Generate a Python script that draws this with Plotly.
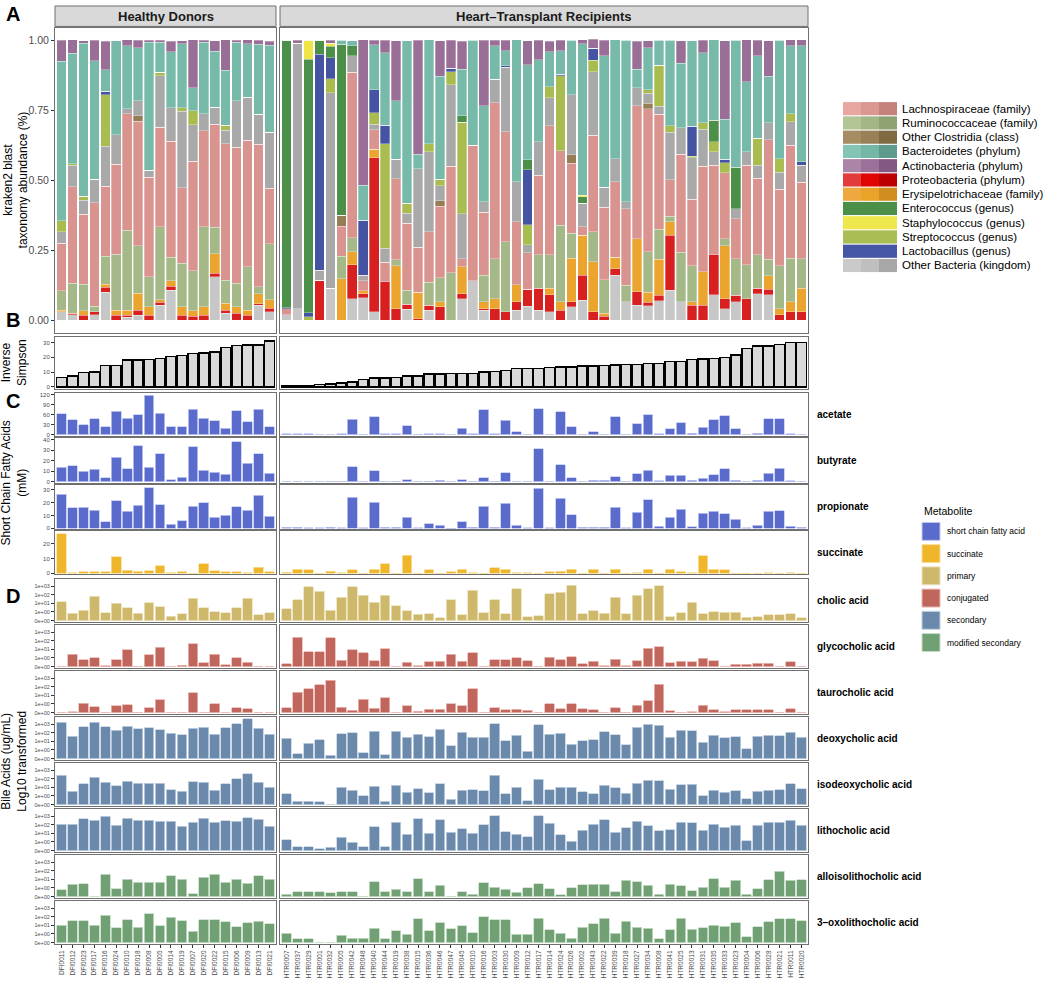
import math
import plotly.graph_objects as go

W, H = 1053, 982
FONT = "Liberation Sans, Arial, Helvetica, sans-serif"
LINE = "#707070"
TICKC = "#4D4D4D"

# ---------------- samples ----------------
hd_samples = ["DFI0011", "DFI0012", "DFI0023", "DFI0017", "DFI0016", "DFI0024", "DFI0010",
              "DFI0018", "DFI0008", "DFI0005", "DFI0014", "DFI0019", "DFI0007", "DFI0020",
              "DFI0022", "DFI0015", "DFI0006", "DFI0009", "DFI0013", "DFI0021"]
htr_samples = ["HTR0007", "HTR0037", "HTR0029", "HTR0001", "HTR0032", "HTR0005", "HTR0042",
               "HTR0048", "HTR0040", "HTR0044", "HTR0019", "HTR0038", "HTR0015", "HTR0036",
               "HTR0046", "HTR0047", "HTR0045", "HTR0010", "HTR0016", "HTR0003", "HTR0030",
               "HTR0009", "HTR0012", "HTR0017", "HTR0014", "HTR0024", "HTR0026", "HTR0002",
               "HTR0043", "HTR0022", "HTR0039", "HTR0018", "HTR0027", "HTR0034", "HTR0008",
               "HTR0041", "HTR0025", "HTR0013", "HTR0031", "HTR0035", "HTR0033", "HTR0023",
               "HTR0004", "HTR0006", "HTR0028", "HTR0021", "HTR0011", "HTR0020"]
group_labels = ["Healthy Donors", "Heart\u2013Transplant Recipients"]

# ---------------- taxonomy relative abundance (20 HD then 48 HTR) ----------------
tax_other_low = [.03, .02, 0, .02, .10, 0, .01, .018, 0, .053, .107, 0, 0, 0, .155, .024, 0, 0, .053, .03,
                 .02, .04, 0, 0, .113, 0, .077, .08, .03, 0, 0, .038, 0, .035, 0, 0, .077, .14, .036, 0,
                 0, .036, .05, .036, .03, 0, .048, .071, 0, 0, .16, .065, .053, .051, .07, .107, .065, 0,
                 0, .09, .04, .065, 0, .095, .09, 0, 0, 0]
tax_proteo = [0, .005, .018, .01, .018, .018, .008, .018, .018, .01, .014, .018, .014, .018, .012, .012, .024, .018, .006, .012,
              0, 0, 0, .142, 0, 0, .12, .015, .55, .137, .04, .018, .005, .018, .047, 0, .018, 0, .005, .04,
              .03, .03, .06, .077, .06, .036, .018, .09, .03, .014, .024, 0, .048, .012, .018, .196, 0, .053,
              .053, .143, .036, .024, .077, .018, .02, .02, .03, .03]
tax_erysipelo = [.005, 0, .015, 0, .01, .018, .018, .06, .03, .01, .02, .03, .02, .03, .07, .024, .024, .018, .036, .03,
                 0, 0, 0, 0, 0, .148, .048, .01, .03, 0, .155, 0, .095, 0, .018, 0, .095, 0, .024, .036,
                 0, .06, 0, 0, .024, .03, .155, .143, .178, .01, .04, 0, .19, .036, .13, .048, 0, .012,
                 .12, 0, .19, 0, 0, 0, .048, .02, .036, .083]
tax_rumino = [.07, .107, .095, .02, .10, .20, .285, .17, .107, .26, .083, .155, .143, .285, .095, .083, .083, .155, .024, .20,
              0, 0, 0, 0, 0, .08, .05, 0, 0, 0, .02, .05, 0, .083, .087, .17, 0, 0, .095, .143,
              .25, 0, 0, .12, .12, .273, .09, 0, .107, .12, 0, .06, 0, .146, .107, .02, .178, .13,
              0, 0, .024, .13, .12, .12, .06, .155, .155, .107]
tax_lachno = [.17, .345, .25, .37, .25, .32, .416, .445, .356, .356, .415, .27, .39, .344, .368, .487, .487, .451, .51, .20,
              .02, 0, 0, 0, 0, .107, .59, .036, .07, .07, .29, .24, .16, .18, .255, .38, .03, .484, .226, .558,
              .393, .226, .13, .285, .46, .267, .25, .03, .345, .26, .27, .273, .475, .51, .41, .13, .35, .237,
              .376, .32, .237, .143, .356, .273, .427, .273, .404, .273]
tax_clostridia = [0, 0, 0, 0, 0, 0, 0, .02, 0, 0, 0, 0, 0, 0, 0, 0, 0, 0, 0, 0,
                  0, 0, 0, 0, 0, .04, 0, 0, 0, 0, 0, 0, 0, 0, .02, 0, 0, 0, 0, 0,
                  0, 0, 0, 0, 0, 0, .03, 0, 0, 0, 0, 0, 0, .02, 0, 0, 0, 0,
                  0, 0, 0, 0, 0, 0, 0, 0, 0, 0]
tax_other_mid = [.04, .077, .05, .083, .143, .107, .018, .053, .024, .184, .12, .273, .131, .06, .06, .048, .166, .155, .107, .20,
                 0, .95, 0, .036, .70, 0, .06, .02, .02, .05, .07, .036, .28, .285, .053, .291, .16, 0, .036, .083,
                 .23, .143, .03, .12, .10, 0, .214, .083, .227, .07, .083, .024, .065, .036, .03, .17, .095, .148,
                 .133, .048, 0, .036, .048, .048, .06, .06, .083, .06]
tax_strepto = [.04, .005, .015, 0, .184, 0, 0, 0, 0, .012, 0, .012, .05, 0, 0, .018, 0, 0, 0, 0,
               0, 0, .012, 0, .05, 0, 0, 0, .04, .374, 0, .036, 0, .03, .024, .047, .327, 0, 0, 0,
               0, 0, .071, 0, .04, .267, 0, 0, .042, 0, 0, 0, 0, .012, .145, .024, 0, .006,
               .024, .036, .036, 0, 0, .095, 0, .048, .03, 0]
tax_lacto = [0, 0, 0, 0, .012, 0, 0, 0, 0, 0, 0, 0, 0, 0, 0, 0, 0, 0, 0, 0,
             .005, 0, .015, .772, .075, 0, 0, .196, .083, .065, 0, 0, 0, 0, 0, .012, 0, 0, 0, 0,
             .006, 0, .196, 0, 0, .006, 0, 0, .042, 0, 0, 0, 0, 0, 0, 0, 0, .107,
             0, 0, .012, 0, 0, 0, 0, 0, 0, .012]
tax_entero = [0, 0, 0, 0, 0, 0, 0, 0, 0, 0, 0, 0, 0, 0, 0, 0, 0, 0, 0, 0,
              .955, 0, .905, .05, .04, .61, .035, 0, 0, 0, 0, 0, 0, 0, 0, 0, .024, 0, 0, 0,
              0, 0, .036, 0, 0, 0, 0, .024, 0, 0, 0, 0, 0, 0, 0, 0, 0, 0,
              0, .077, 0, .148, 0, 0, 0, 0, 0, 0]
tax_staph = [0, 0, 0, 0, 0, 0, 0, 0, 0, 0, 0, 0, 0, 0, 0, 0, 0, 0, 0, 0,
             0, 0, .068, 0, .012, 0, 0, 0, 0, 0, 0, 0, 0, 0, 0, 0, 0, 0, 0, 0,
             0, 0, 0, 0, 0, 0, 0, .006, 0, 0, 0, 0, 0, 0, 0, 0, 0, 0,
             0, 0, 0, 0, 0, 0, 0, 0, 0, 0]
tax_bactero = [.57, .395, .546, .423, .077, .335, .226, .19, .457, .107, .20, .23, .083, .255, .20, .196, .208, .19, .25, .31,
               0, 0, 0, 0, 0, .015, .018, .125, .16, .26, .208, .58, .053, .37, .368, 0, .166, .376, .344, .12,
               .053, .507, .34, .292, .125, .083, .195, .54, 0, .47, .424, .578, .065, .15, .09, .305, .23, .305,
               .25, .287, .143, .454, .25, .295, .166, .424, .243, .416]
tax_actino = [.075, .048, .01, .074, .103, 0, .02, .026, .008, .008, .038, .01, .17, .008, .038, .11, .008, .014, .014, .014,
              0, .01, 0, 0, .01, 0, 0, .52, .017, .044, .216, 0, .407, 0, .127, .10, .10, 0, .234, .02,
              .038, 0, .086, .07, .038, .038, 0, .014, .032, .056, 0, 0, .10, .026, 0, 0, .08, 0,
              .044, 0, .28, 0, .15, .056, .127, 0, .02, .02]

# stacking order bottom -> top, with bar colour
tax_layers = [
    (tax_other_low, "#C7C7C7"),
    (tax_proteo, "#D92020"),
    (tax_erysipelo, "#EBA42E"),
    (tax_rumino, "#A4B987"),
    (tax_lachno, "#DA948F"),
    (tax_clostridia, "#957D55"),
    (tax_other_mid, "#A9A9A9"),
    (tax_strepto, "#A8BC4F"),
    (tax_lacto, "#4454A3"),
    (tax_entero, "#4B8F48"),
    (tax_staph, "#EEE647"),
    (tax_bactero, "#77BAA9"),
    (tax_actino, "#9A6F97"),
]

tax_legend_labels = ["Lachnospiraceae (family)", "Ruminococcaceae (family)", "Other Clostridia (class)",
                     "Bacteroidetes (phylum)", "Actinobacteria (phylum)", "Proteobacteria (phylum)",
                     "Erysipelotrichaceae (family)", "Enterococcus (genus)", "Staphylococcus (genus)",
                     "Streptococcus (genus)", "Lactobacillus (genus)", "Other Bacteria (kingdom)"]
tax_legend_colors = [["#E8A6A1", "#DB9691", "#C6817C"], ["#B2C596", "#A3B786", "#8EA273"],
                     ["#A58C62", "#988058", "#7F6A42"], ["#84C4B4", "#75B7A6", "#5F9B8C"],
                     ["#AA85A7", "#9B719A", "#835983"], ["#E23B3B", "#E00505", "#BC0000"],
                     ["#EDA83F", "#EBA228", "#D08D20"], ["#4B8F49"] * 3, ["#EFE84C"] * 3,
                     ["#A9BD53"] * 3, ["#4556A5"] * 3, ["#CACACA", "#BFBFBF", "#A8A8A8"]]

# ---------------- inverse simpson ----------------
invsimp_hd = [6.5, 7.4, 9.9, 10.0, 14.6, 14.6, 18.2, 18.2, 18.7, 19.1, 20.7, 21.1, 22.7, 22.9, 23.6,
              26.5, 28.1, 28.3, 28.5, 31.2]
invsimp_htr = [0.7, 0.7, 0.9, 1.6, 1.8, 2.5, 3.4, 5.0, 5.9, 6.0, 6.3, 7.4, 7.4, 8.6, 8.6, 9.0, 9.2, 9.2,
               10.1, 10.4, 11.0, 12.6, 12.6, 12.6, 13.1, 13.5, 13.5, 14.2, 14.2, 14.6, 14.9, 15.3, 15.3,
               15.8, 16.0, 17.3, 17.3, 18.5, 18.9, 19.4, 19.8, 21.6, 26.1, 27.7, 27.7, 28.8, 30.2, 30.2]

# ---------------- short chain fatty acids (mM) ----------------
acetate_hd = [63, 46, 30, 49, 25, 71, 50, 61, 118, 65, 24, 24, 77, 50, 42, 20, 72, 39, 77, 25]
acetate_htr = [3, 3, 3, 1, 1, 3, 47, 1, 55, 3, 3, 28, 2, 4, 3, 0, 20, 3, 76, 3, 44, 9, 0, 78, 1, 70, 24, 0,
               10, 1, 55, 0, 34, 60, 3, 18, 36, 5, 23, 45, 57, 18, 0, 5, 48, 49, 3, 1]
butyrate_hd = [13.9, 15.1, 10.1, 12, 4.1, 23.3, 12.6, 34, 13.9, 26.5, 2.2, 4.4, 33.4, 11.0, 9.1, 7.3, 37.9,
               17.4, 26.5, 8.2]
butyrate_htr = [0.3, 0, 0, 0, 0.6, 0.6, 14.2, 0.3, 10.7, 0, 0.6, 1.9, 0, 0.6, 1.3, 0, 1.9, 0, 3.8, 0.6,
                8.5, 0, 0, 31.5, 0, 16.1, 3.8, 0, 1.6, 1.3, 5.0, 0, 7.6, 11.0, 0.9, 6.3, 6.3, 1.3, 3.2, 6.9,
                12.3, 1.6, 0, 1.6, 8.2, 12.9, 0.9, 0]
propionate_hd = [26.4, 16.0, 16.5, 14.2, 5.2, 21.4, 13.2, 18.1, 31.5, 18.3, 3.1, 5.9, 17.0, 19.9, 8.8, 10.1,
                 16.8, 14.2, 25.8, 9.3]
propionate_htr = [0.8, 0.8, 0.5, 0.3, 1.0, 0.5, 24.3, 0.5, 20.2, 1.0, 1.0, 8.5, 0.3, 3.6, 2.3, 0, 5.2, 1.0,
                  17.1, 1.0, 19.6, 2.3, 0.3, 31.3, 0.3, 23.3, 10.6, 1.0, 1.0, 1.0, 16.3, 0.3, 12.7, 22.2,
                  1.6, 8.5, 15.0, 1.3, 11.9, 13.2, 11.4, 7.0, 0.3, 2.3, 13.2, 13.7, 1.6, 0.8]
succinate_hd = [26.7, 0.4, 1.1, 0.9, 1.1, 11.0, 2.0, 1.3, 1.6, 4.9, 0.4, 1.1, 0, 6.5, 1.6, 0.9, 0.9, 0.2,
                4.0, 1.1]
succinate_htr = [0.7, 2.7, 2.5, 0, 1.3, 0.2, 2.5, 0, 2.7, 6.5, 0, 12.1, 0, 2.5, 0, 0.9, 2.7, 0.2, 0, 3.8,
                 2.7, 0.2, 0.2, 0, 0.9, 1.3, 2.7, 0, 2.7, 0, 2.7, 0, 0.2, 2.7, 0, 2.7, 1.1, 0.2, 11.7, 2.7,
                 2.2, 0, 0, 0, 0.2, 0, 0.2, 0]

# ---------------- bile acids (ug/mL) ----------------
cholic_hd = [15, 0.86, 1.6, 63, 0.9, 10.5, 3.3, 0.86, 11.5, 4.3, 0.5, 0.78, 37, 3.0, 1.1, 0.9, 3.0, 37, 0.66, 0.9]
cholic_htr = [2.5, 28, 850, 265, 1.5, 48, 850, 91, 14, 83, 5.6, 1.35, 0.74, 0.78, 0.35, 26, 0.7, 350, 0.9, 26,
              0.78, 500, 0.47, 0.58, 130, 186, 1230, 0.78, 1.35, 0.86, 48, 0.78, 83, 500, 1120, 0.43, 0.9,
              14, 0.82, 1.0, 0.97, 0.97, 0.39, 0.47, 0.7, 0.7, 0.78, 0.35]
glyco_hd = [0, 2.75, 0.82, 1.1, 0.12, 0.82, 8.9, 0, 2.5, 18, 0, 0.16, 45, 0.43, 2.75, 0.2, 1.1, 0.5, 0, 0]
glyco_htr = [0.35, 245, 5.6, 5.1, 224, 0.74, 9.6, 4.0, 0.7, 11.5, 0, 0.5, 0.08, 0.55, 0.62, 2.75, 0.62, 4.3,
             0, 0.82, 0.82, 1.1, 0.66, 0, 1.2, 0.78, 1.35, 0.31, 0.62, 0.08, 0.86, 0.12, 0.66, 14, 20, 0.43,
             0.62, 0.55, 0.97, 0.66, 0, 0.27, 0.27, 0.39, 0.39, 0, 0.55, 0]
tauro_hd = [0, 0.08, 1.2, 0.7, 0, 0.78, 0.93, 0, 0.58, 2.9, 0, 0, 20, 0, 1.0, 0, 0.58, 0.43, 0, 0]
tauro_htr = [0.55, 23, 58, 180, 590, 0.62, 0.27, 3.6, 0.5, 5.6, 0, 0.78, 0.16, 0.39, 0.39, 1.1, 0.82, 58, 0,
             0.55, 0.35, 0.39, 0.27, 0, 1.01, 0.43, 1.01, 0.43, 0.35, 0, 0.58, 0, 0.86, 2.5, 186, 0.23, 0,
             0.12, 0.86, 0.35, 0.12, 0.35, 0.31, 0.35, 0.35, 0, 0.43, 0]
deoxy_hd = [1740, 37, 500, 1580, 500, 186, 550, 290, 380, 220, 83, 58, 316, 457, 63, 380, 1120, 4000, 316, 63]
deoxy_htr = [22, 0.54, 5.9, 15.5, 0.38, 76, 100, 0.65, 140, 0.46, 155, 29, 63, 35, 240, 2.9, 110, 32, 32, 1180,
             12, 54, 0.88, 830, 63, 83, 4.5, 12, 15.5, 130, 59, 4.2, 450, 910, 700, 29, 200, 170, 8.4, 54,
             26, 35, 1.4, 38, 49, 45, 120, 29]
isodeoxy_hd = [240, 3.5, 25, 140, 37, 16, 50, 30, 30, 30, 5.6, 3.5, 45, 40, 4.7, 28, 100, 380, 40, 10]
isodeoxy_htr = [1.9, 0.38, 0.38, 0.35, 0, 11, 4.9, 1.1, 13, 0.38, 17, 2.7, 7, 2.4, 26, 0.62, 4.5, 5.4, 4.2,
                265, 1.9, 10, 0.42, 83, 5.4, 11, 11, 2.9, 1.7, 17, 9.1, 2.2, 32, 71, 59, 5.9, 20, 22, 1.0,
                4.5, 2.7, 3.8, 0.69, 3.5, 4.5, 5.4, 26, 7]
litho_hd = [118, 118, 500, 350, 1000, 83, 590, 350, 350, 260, 240, 70, 200, 550, 186, 290, 260, 650, 415, 63]
litho_htr = [1.9, 0.46, 0.46, 0.23, 0.38, 3.5, 0.96, 0.42, 59, 0.46, 186, 8.4, 490, 10, 380, 13, 35, 11, 100,
             1100, 15.5, 8.4, 4.2, 1100, 155, 6.5, 1.2, 24, 110, 380, 13, 42, 265, 76, 19, 26, 200, 170, 22,
             120, 54, 91, 1.3, 91, 186, 200, 350, 83]
alloiso_hd = [0.8, 2.6, 3.2, 0, 37, 0.92, 11, 4.5, 4.5, 4.5, 28, 11, 0.35, 18, 37, 4.5, 11, 3.5, 28, 11]
alloiso_htr = [0.3, 0.54, 0.54, 0.54, 0.46, 0.54, 0.54, 0, 5.5, 0.54, 0.88, 0.54, 12.5, 0.54, 2.0, 0, 0.54,
               0.3, 3.8, 1.2, 0.85, 0.5, 1.0, 2.9, 0.92, 0.2, 1.0, 2.3, 2.8, 2.8, 0.54, 8.0, 5.6, 2.0, 0.3,
               2.8, 1.7, 0.68, 1.15, 12, 1.15, 8, 0.3, 0.9, 9, 92, 7.5, 8.5]
oxolitho_hd = [11, 35, 35, 11, 145, 5.1, 42, 6.1, 220, 8.7, 85, 33, 2.0, 42, 46, 25, 6.7, 20, 30, 15]
oxolitho_htr = [1.26, 0.42, 0.42, 0, 0, 0.84, 0.49, 0.49, 4.7, 0.42, 2.5, 0.95, 55, 2.5, 19, 4.0, 8.7, 1.4,
                100, 42, 42, 0.99, 0.99, 65, 3.0, 1.26, 0.53, 6.1, 15, 65, 1.26, 30, 6.1, 4.7, 0.46, 3.3,
                71, 3.6, 5.1, 10.5, 8, 19, 0.65, 7.2, 27, 55, 55, 35]

bile_ticktext = ["0e+00", "1e+00", "1e+01", "1e+02", "1e+03"]
bile_tickvals_ug = [0, 1, 10, 100, 1000]

metabolite_names = ["short chain fatty acid", "succinate", "primary", "conjugated", "secondary",
                    "modified secondary"]
metabolite_colors = ["#5B6BCB", "#F0B62B", "#CDB86B", "#C0665D", "#6B89AA", "#72A075"]
metabolite_edges = ["#C3CAF3", "#F8DE9A", "#ECE2BC", "#EBB9B3", "#C3D2E2", "#C6DEC7"]


def bile_pos(v):
    """Axis position used by the bile-acid panels (0 -> 0, 1 -> 1, 10 -> 2 ...)."""
    return v if v < 1 else 1 + math.log10(v)


# ---------------- panel rows ----------------
bile_top0, bile_step, bile_h = 580.0, 46.14, 42.8
rows = [
    dict(kind="tax", top=27, bot=333, rng=[-0.046, 1.044], tv=[0, .25, .5, .75, 1],
         tt=["0.00", "0.25", "0.50", "0.75", "1.00"], tfs=10.5, label=None),
    dict(kind="is", top=337, bot=389, rng=[-1.35, 33.85], tv=[0, 10, 20, 30], tt=["0", "10", "20", "30"],
         tfs=6, label=None, data=(invsimp_hd, invsimp_htr)),
    dict(kind="scfa", top=393, bot=436, rng=[-2, 126], tv=[0, 30, 60, 90, 120],
         tt=["0", "30", "60", "90", "120"], tfs=6, label="acetate", data=(acetate_hd, acetate_htr), m=0),
    dict(kind="scfa", top=438.5, bot=483.3, rng=[-0.95, 41.4], tv=[0, 10, 20, 30, 40],
         tt=["0", "10", "20", "30", "40"], tfs=6, label="butyrate", data=(butyrate_hd, butyrate_htr), m=0),
    dict(kind="scfa", top=485, bot=529.6, rng=[-0.5, 34.1], tv=[0, 10, 20, 30], tt=["0", "10", "20", "30"],
         tfs=6, label="propionate", data=(propionate_hd, propionate_htr), m=0),
    dict(kind="scfa", top=532, bot=575, rng=[-0.7, 28.3], tv=[0, 10, 20], tt=["0", "10", "20"],
         tfs=6, label="succinate", data=(succinate_hd, succinate_htr), m=1),
]
bile_rows = [("cholic acid", cholic_hd, cholic_htr, 2),
             ("glycocholic acid", glyco_hd, glyco_htr, 3),
             ("taurocholic acid", tauro_hd, tauro_htr, 3),
             ("deoxycholic acid", deoxy_hd, deoxy_htr, 4),
             ("isodeoxycholic acid", isodeoxy_hd, isodeoxy_htr, 4),
             ("lithocholic acid", litho_hd, litho_htr, 4),
             ("alloisolithocholic acid", alloiso_hd, alloiso_htr, 5),
             ("3\u2013oxolithocholic acid", oxolitho_hd, oxolitho_htr, 5)]
for k, (lab, hd, htr, m) in enumerate(bile_rows):
    top = bile_top0 + k * bile_step
    rows.append(dict(kind="bile", top=top, bot=top + bile_h, rng=[-0.15, 4.8],
                     tv=[bile_pos(v) for v in bile_tickvals_ug], tt=bile_ticktext, tfs=5.5,
                     label=lab, data=(hd, htr), m=m))

col_px = [(55, 276), (280, 808)]
col_samples = [hd_samples, htr_samples]
n_hd = len(hd_samples)


def fx(p):
    return p / W


def fy(p):
    return 1 - p / H


fig = go.Figure()
layout = {}
annotations = []
shapes = []

for r, spec in enumerate(rows):
    last = (r == len(rows) - 1)
    for c in range(2):
        i = r * 2 + c + 1
        xa = "x" if i == 1 else f"x{i}"
        ya = "y" if i == 1 else f"y{i}"
        xk = "xaxis" if i == 1 else f"xaxis{i}"
        yk = "yaxis" if i == 1 else f"yaxis{i}"
        samples = col_samples[c]
        n = len(samples)
        layout[xk] = dict(domain=[fx(col_px[c][0]), fx(col_px[c][1])], anchor=ya, type="category",
                          categoryorder="array", categoryarray=samples, range=[-0.6, n - 0.4],
                          showline=True, mirror=True, linecolor=LINE, linewidth=1, showgrid=False,
                          zeroline=False, fixedrange=True,
                          ticks="outside" if last else "", ticklen=3, tickcolor="#333333",
                          showticklabels=last, tickangle=-90,
                          tickfont=dict(size=6.5, color=TICKC, family=FONT))
        layout[yk] = dict(domain=[fy(spec["bot"]), fy(spec["top"])], anchor=xa, range=spec["rng"],
                          showline=True, mirror=True, linecolor=LINE, linewidth=1, showgrid=False,
                          zeroline=False, fixedrange=True,
                          tickvals=spec["tv"], ticktext=spec["tt"],
                          ticks="outside" if c == 0 else "", ticklen=3, tickcolor="#333333",
                          showticklabels=(c == 0),
                          tickfont=dict(size=spec["tfs"], color=TICKC, family=FONT))

        sl = slice(0, n_hd) if c == 0 else slice(n_hd, None)
        if spec["kind"] == "tax":
            for vals, col in tax_layers:
                fig.add_trace(go.Bar(x=samples, y=vals[sl], marker=dict(color=col,
                              line=dict(color="white", width=0.3)), xaxis=xa, yaxis=ya,
                              showlegend=False, hoverinfo="skip"))
        elif spec["kind"] == "is":
            fig.add_trace(go.Bar(x=samples, y=spec["data"][c], marker=dict(color="#D9D9D9",
                          line=dict(color="black", width=1.4)), xaxis=xa, yaxis=ya, showlegend=False))
        elif spec["kind"] == "scfa":
            m = spec["m"]
            fig.add_trace(go.Bar(x=samples, y=spec["data"][c], marker=dict(color=metabolite_colors[m],
                          line=dict(color=metabolite_edges[m], width=0.8)), xaxis=xa, yaxis=ya,
                          showlegend=False))
        else:
            m = spec["m"]
            fig.add_trace(go.Bar(x=samples, y=[bile_pos(v) for v in spec["data"][c]],
                          marker=dict(color=metabolite_colors[m],
                                      line=dict(color=metabolite_edges[m], width=0.8)),
                          xaxis=xa, yaxis=ya, showlegend=False))
    if spec["label"]:
        annotations.append(dict(x=fx(815), y=fy((spec["top"] + spec["bot"]) / 2), xref="paper", yref="paper",
                                text=f"<b>{spec['label']}</b>", showarrow=False, xanchor="left",
                                yanchor="middle", font=dict(size=10, color="black", family=FONT)))

# facet strips
for c in range(2):
    shapes.append(dict(type="rect", xref="paper", yref="paper", x0=fx(col_px[c][0]), x1=fx(col_px[c][1]),
                       y0=fy(25.5), y1=fy(5), fillcolor="#D9D9D9", line=dict(color=LINE, width=1)))
    annotations.append(dict(x=fx((col_px[c][0] + col_px[c][1]) / 2), y=fy(15.3), xref="paper", yref="paper",
                            text=f"<b>{group_labels[c]}</b>", showarrow=False, xanchor="center",
                            yanchor="middle", font=dict(size=13, color="#1A1A1A", family=FONT)))

# panel letters
for letter, ypx in [("A", 13), ("B", 320), ("C", 401), ("D", 597)]:
    annotations.append(dict(x=fx(13), y=fy(ypx), xref="paper", yref="paper", text=f"<b>{letter}</b>",
                            showarrow=False, xanchor="center", yanchor="middle",
                            font=dict(size=20, color="black", family=FONT)))

# y titles
for txt, xpx, ypx in [("kraken2 blast<br>taxonomy abundance (%)", 16, 180),
                      ("Inverse<br>Simpson", 14, 363),
                      ("Short Chain Fatty Acids<br>(mM)", 14, 484),
                      ("Bile Acids (ug/mL)<br>Log10 transformed", 14, 763)]:
    annotations.append(dict(x=fx(xpx), y=fy(ypx), xref="paper", yref="paper", text=txt, showarrow=False,
                            textangle=-90, xanchor="center", yanchor="middle",
                            font=dict(size=12, color="black", family=FONT)))

# taxonomy legend
for k, (lab, cols) in enumerate(zip(tax_legend_labels, tax_legend_colors)):
    yc = 108 + k * 14.3
    for j, col in enumerate(cols):
        shapes.append(dict(type="rect", xref="paper", yref="paper", x0=fx(843 + 18 * j), x1=fx(843 + 18 * (j + 1)),
                           y0=fy(yc + 6.6), y1=fy(yc - 6.6), fillcolor=col, line=dict(width=0)))
    annotations.append(dict(x=fx(900), y=fy(yc), xref="paper", yref="paper", text=lab, showarrow=False,
                            xanchor="left", yanchor="middle", font=dict(size=11.5, color="black", family=FONT)))

# metabolite legend
LEG2_X = 922
annotations.append(dict(x=fx(LEG2_X), y=fy(512), xref="paper", yref="paper", text="Metabolite", showarrow=False,
                        xanchor="left", yanchor="middle", font=dict(size=10.5, color="black", family=FONT)))
for k, (lab, col, edge) in enumerate(zip(metabolite_names, metabolite_colors, metabolite_edges)):
    yc = 532 + k * 22.3
    shapes.append(dict(type="rect", xref="paper", yref="paper", x0=fx(LEG2_X), x1=fx(LEG2_X + 18),
                       y0=fy(yc + 9), y1=fy(yc - 9), fillcolor=col, line=dict(color=edge, width=1)))
    annotations.append(dict(x=fx(LEG2_X + 23), y=fy(yc), xref="paper", yref="paper", text=lab, showarrow=False,
                            xanchor="left", yanchor="middle", font=dict(size=8.5, color="black", family=FONT)))

fig.update_layout(**layout)
fig.update_layout(width=W, height=H, autosize=False, margin=dict(l=0, r=0, t=0, b=0),
                  paper_bgcolor="white", plot_bgcolor="white", barmode="stack", bargap=0.12,
                  font=dict(family=FONT), annotations=annotations, shapes=shapes, showlegend=False)

fig.write_html("out.html", config={"displayModeBar": False, "staticPlot": True})

# remove the default page margin so the figure sits at the window's top-left corner
with open("out.html", "r", encoding="utf-8") as fh:
    html = fh.read()
html = html.replace("<head>", "<head><style>html,body{margin:0;padding:0;overflow:hidden;}</style>", 1)
with open("out.html", "w", encoding="utf-8") as fh:
    fh.write(html)
